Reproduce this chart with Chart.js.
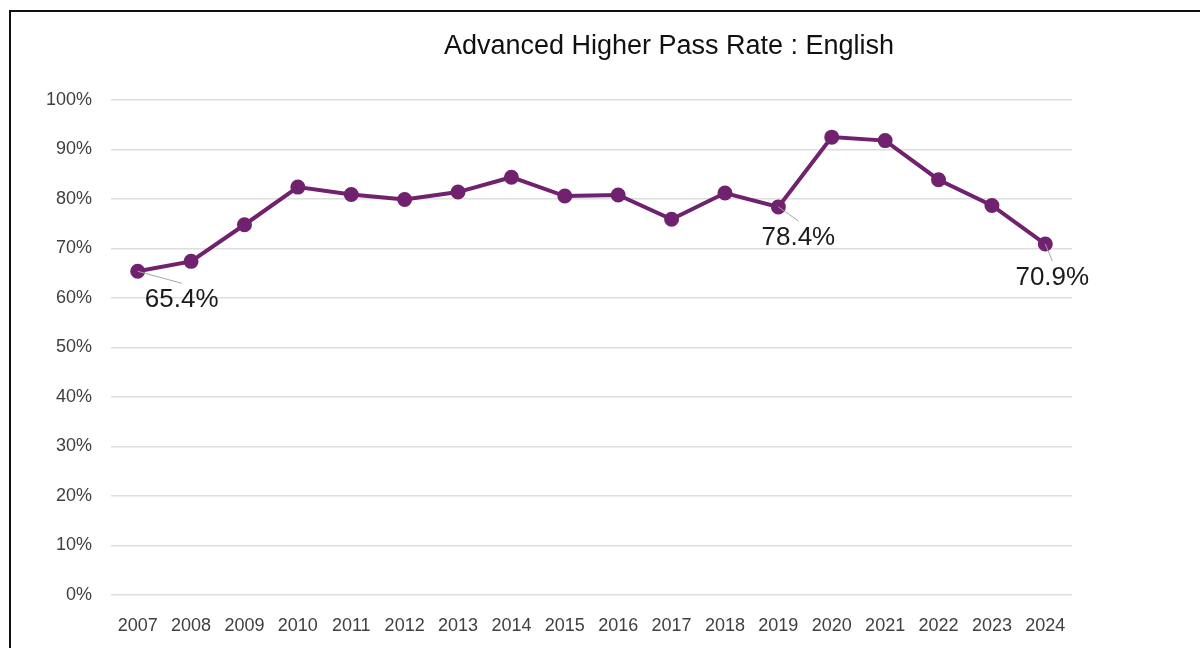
<!DOCTYPE html>
<html>
<head>
<meta charset="utf-8">
<script src="https://cdn.jsdelivr.net/npm/chart.js@4"></script>
<style>
    html, body { margin: 0; padding: 0; background: #fff; overflow: hidden; }
    #wrap { position: relative; width: 1200px; height: 648px; }
    #frame { position: absolute; left: 9px; top: 10px; width: 1300px; height: 800px; border: 2px solid #111; box-sizing: border-box; }
    #title { position: absolute; left: 369px; width: 600px; top: 29px; text-align: center;
             font: 27px "Liberation Sans", Arial, sans-serif; color: #111; line-height: 32px; }
    #myChart { position: absolute; left: 0; top: 0; }
</style>
</head>
<body>
<div id="wrap">
    <div id="frame"></div>
    <canvas id="myChart" width="1200" height="648"></canvas>
    <div id="title">Advanced Higher Pass Rate : English</div>
</div>
<script>
const years = ['2007', '2008', '2009', '2010', '2011', '2012', '2013', '2014', '2015',
               '2016', '2017', '2018', '2019', '2020', '2021', '2022', '2023', '2024'];
const passRate = [65.4, 67.4, 74.8, 82.4, 80.9, 79.9, 81.4, 84.4, 80.6,
                  80.8, 75.9, 81.2, 78.4, 92.5, 91.8, 83.9, 78.7, 70.9];
// which points get a callout label
const labelled = ['2007', '2019', '2024'];

document.addEventListener('DOMContentLoaded', function () {
    const tickFont = { family: '"Liberation Sans", Arial, sans-serif', size: 18 };

    // callouts with a small grey leader line, like the spreadsheet chart
    const callouts = {
        id: 'callouts',
        afterDatasetsDraw(chart) {
            const ctx = chart.ctx;
            const pts = chart.getDatasetMeta(0).data;
            const offsets = { '2007': [44, 29], '2019': [20, 31], '2024': [7, 34] };
            ctx.save();
            labelled.forEach(year => {
                const i = years.indexOf(year);
                const p = pts[i];
                const [dx, dy] = offsets[year];
                ctx.strokeStyle = '#a6a6a6';
                ctx.lineWidth = 1;
                ctx.beginPath();
                ctx.moveTo(p.x, p.y);
                ctx.lineTo(p.x + dx, p.y + dy - 17);
                ctx.stroke();
                ctx.fillStyle = '#1a1a1a';
                ctx.font = '26px "Liberation Sans", Arial, sans-serif';
                ctx.textAlign = 'center';
                ctx.textBaseline = 'middle';
                ctx.fillText(passRate[i].toFixed(1) + '%', p.x + dx, p.y + dy);
            });
            ctx.restore();
        }
    };

    let ctx = document.getElementById('myChart').getContext('2d');
    new Chart(ctx, {
        type: 'line',
        data: {
            labels: years,
            datasets: [{
                label: 'English',
                data: passRate,
                borderColor: '#70226e',
                backgroundColor: '#70226e',
                borderWidth: 4,
                pointRadius: 5.5,
                pointHoverRadius: 5.5,
                tension: 0
            }]
        },
        options: {
            responsive: false,
            animation: false,
            layout: { padding: { left: 12, right: 128, top: 100, bottom: 0 } },
            scales: {
                x: {
                    offset: true,
                    grid: { display: false },
                    border: { display: false },
                    ticks: { color: '#404040', font: tickFont, padding: 12, maxRotation: 0, autoSkip: false },
                    afterFit(scale) { scale.height = 53; }
                },
                y: {
                    min: 0,
                    max: 100,
                    grid: { color: '#dedede', lineWidth: 1.5, drawTicks: false },
                    border: { display: false },
                    ticks: {
                        stepSize: 10,
                        color: '#404040',
                        font: tickFont,
                        padding: 19,
                        callback: v => v + '%'
                    },
                    afterFit(scale) { scale.width = 99; }
                }
            },
            plugins: {
                legend: { display: false },
                tooltip: { enabled: false }
            }
        },
        plugins: [callouts]
    });
});
</script>
</body>
</html>
